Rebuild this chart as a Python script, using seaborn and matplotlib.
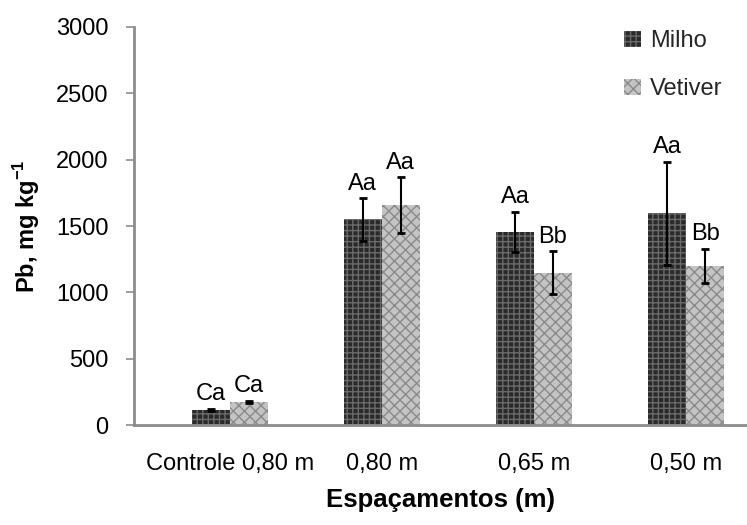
import pandas as pd
import seaborn as sns
import matplotlib.pyplot as plt
from matplotlib.patches import Patch

sns.set_theme(style="white")
plt.rcParams["font.family"] = ["Liberation Sans", "DejaVu Sans"]
plt.rcParams["mathtext.fontset"] = "custom"
plt.rcParams["mathtext.rm"] = "Liberation Sans"
plt.rcParams["mathtext.bf"] = "Liberation Sans:bold"
plt.rcParams["hatch.linewidth"] = 1.0

# DATA
espacamentos = ["Controle 0,80 m", "0,80 m", "0,65 m", "0,50 m"]
milho = [115, 1550, 1457, 1595]
milho_err = [10, 162, 151, 390]
vetiver = [175, 1660, 1150, 1200]
vetiver_err = [10, 210, 160, 130]
milho_letras = ["Ca", "Aa", "Aa", "Aa"]
vetiver_letras = ["Ca", "Aa", "Bb", "Bb"]

df = pd.DataFrame({
    "Espaçamentos": espacamentos * 2,
    "Pb": milho + vetiver,
    "Planta": ["Milho"] * 4 + ["Vetiver"] * 4,
})
errs = {"Milho": milho_err, "Vetiver": vetiver_err}
letras = {"Milho": milho_letras, "Vetiver": vetiver_letras}
valores = {"Milho": milho, "Vetiver": vetiver}

estilos = {
    "Milho": dict(facecolor="#2a2a2a", edgecolor="#6a6a6a", hatch="+++"),
    "Vetiver": dict(facecolor="#c4c4c4", edgecolor="#8a8a8a", hatch="xxx"),
}

# VISUALIZATION
fig = plt.figure(figsize=(7.47, 5.25), dpi=100)
ax = fig.add_axes([0.179, 0.19, 0.821, 0.759])

sns.barplot(data=df, x="Espaçamentos", y="Pb", hue="Planta", width=0.5,
            order=espacamentos, hue_order=["Milho", "Vetiver"], ax=ax, legend=False)

# Hatch styling, error bars and letters of significance
for cont, planta in zip(ax.containers, ["Milho", "Vetiver"]):
    for i, bar in enumerate(cont):
        bar.set_facecolor(estilos[planta]["facecolor"])
        bar.set_edgecolor(estilos[planta]["edgecolor"])
        bar.set_hatch(estilos[planta]["hatch"])
        bar.set_linewidth(0)
        xc = bar.get_x() + bar.get_width() / 2
        v = valores[planta][i]
        e = errs[planta][i]
        ax.errorbar(xc, v, yerr=e, fmt="none", ecolor="black", elinewidth=1.5,
                    capsize=3, capthick=2)
        ax.text(xc, v + e + 25, letras[planta][i], ha="center", va="bottom",
                fontsize=17, color="black")

ax.set_ylim(0, 3000)
ax.set_xlim(-0.63, 3.40)
ax.set_yticks(range(0, 3001, 500))
ax.tick_params(axis="y", which="major", left=True, length=6, width=1.2,
               color="#8c8c8c", labelsize=17, labelcolor="black", pad=12)
ax.tick_params(axis="x", bottom=False, labelsize=17, labelcolor="black", pad=14)
for s in ["top", "right"]:
    ax.spines[s].set_visible(False)
for s in ["left", "bottom"]:
    ax.spines[s].set_color("#8c8c8c")
    ax.spines[s].set_linewidth(2)

ax.set_xlabel("Espaçamentos (m)", fontsize=18.5, fontweight="bold", labelpad=9,
              color="black")
ax.set_ylabel("Pb, mg kg$^{\\mathbf{-1}}$", fontsize=17, fontweight="bold",
              labelpad=10, color="black")

handles = [Patch(label=p, linewidth=0, **estilos[p]) for p in ["Milho", "Vetiver"]]
ax.legend(handles=handles, loc="upper left", bbox_to_anchor=(0.765, 1.045),
          frameon=False, fontsize=17, handlelength=0.7, handleheight=0.7,
          handletextpad=0.4, labelspacing=1.1)

fig.savefig("out.png", dpi=100)
